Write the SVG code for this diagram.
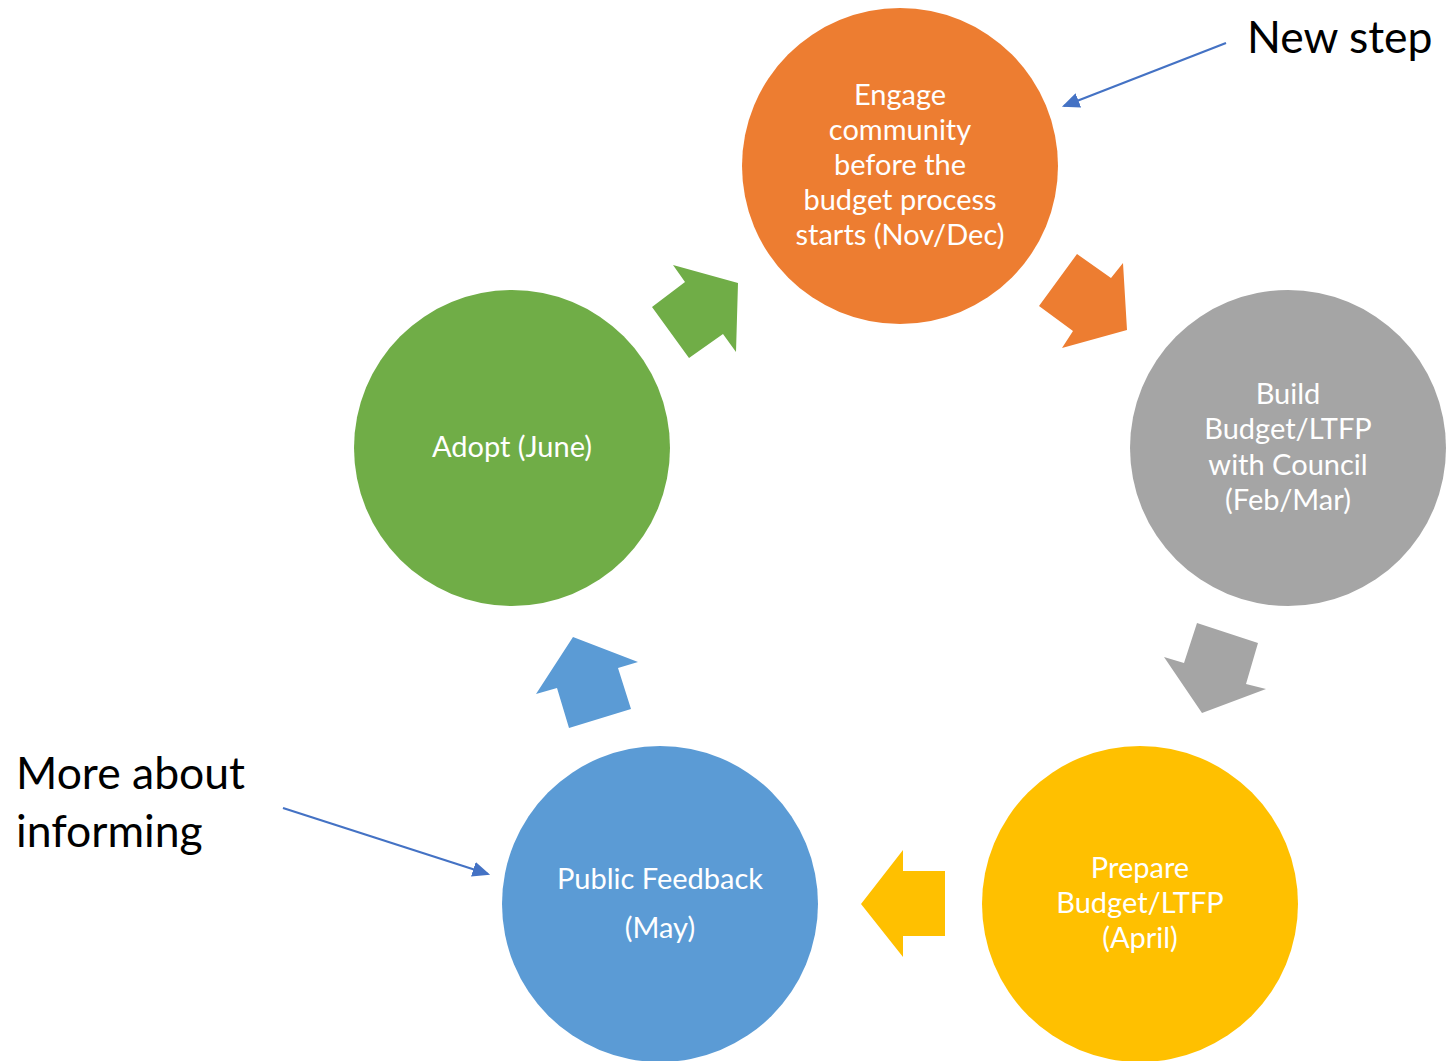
<svg xmlns="http://www.w3.org/2000/svg" width="1447" height="1061" viewBox="0 0 1447 1061">
<style>
.t{font-family:Lato,"Open Sans","Liberation Sans",sans-serif;font-size:29px;fill:#fff;text-anchor:middle}
.l{font-family:Lato,"Open Sans","Liberation Sans",sans-serif;font-size:44.5px;fill:#000}
.c{stroke:#4472C4;stroke-width:2.2;fill:none}
</style>
<defs>
<marker id="ah" markerWidth="8" markerHeight="7" refX="7" refY="3.5" orient="auto" markerUnits="strokeWidth">
<path d="M0,0 L8,3.5 L0,7 z" fill="#4472C4"/>
</marker>
</defs>
<rect width="1447" height="1061" fill="#fff"/>
<g id="block-arrows">
<polygon fill="#70AD47" points="673,265 738,283 736,352 723,334 689,358 652,307 685,282"/>
<polygon fill="#ED7D31" points="1077,254 1111,278 1123,263 1127,330 1062,348 1073,331 1039,306"/>
<polygon fill="#A5A5A5" points="1197,623 1258,643 1246,684 1266,689 1202,713 1164,657 1184,663"/>
<polygon fill="#FFC000" points="903,850 903,871 945,871 945,936 903,936 903,957 861,904"/>
<polygon fill="#5B9BD5" points="573,637 638,662 618,668 631,709 569,728 557,688 536,694"/>
</g>
<g id="engage">
<circle cx="900" cy="166" r="158" fill="#ED7D31"/>
<text class="t" x="900" y="105">Engage</text>
<text class="t" x="900" y="140">community</text>
<text class="t" x="900" y="175">before the</text>
<text class="t" x="900" y="210">budget process</text>
<text class="t" x="900" y="245">starts (Nov/Dec)</text>
</g>
<g id="build">
<circle cx="1288" cy="448" r="158" fill="#A5A5A5"/>
<text class="t" x="1288" y="404">Build</text>
<text class="t" x="1288" y="439">Budget/LTFP</text>
<text class="t" x="1288" y="475">with Council</text>
<text class="t" x="1288" y="510">(Feb/Mar)</text>
</g>
<g id="prepare">
<circle cx="1140" cy="904" r="158" fill="#FFC000"/>
<text class="t" x="1140" y="878">Prepare</text>
<text class="t" x="1140" y="913">Budget/LTFP</text>
<text class="t" x="1140" y="948">(April)</text>
</g>
<g id="feedback">
<circle cx="660" cy="904" r="158" fill="#5B9BD5"/>
<text class="t" x="660" y="889">Public Feedback</text>
<text class="t" x="660" y="938">(May)</text>
</g>
<g id="adopt">
<circle cx="512" cy="448" r="158" fill="#70AD47"/>
<text class="t" x="512" y="457">Adopt (June)</text>
</g>
<g id="labels">
<text class="l" x="1247" y="53">New step</text>
<text class="l" x="16" y="789">More about</text>
<text class="l" x="16" y="847">informing</text>
</g>
<g id="connectors">
<line class="c" x1="1226" y1="43" x2="1064" y2="106" marker-end="url(#ah)"/>
<line class="c" x1="283" y1="808" x2="488" y2="874" marker-end="url(#ah)"/>
</g>
</svg>
